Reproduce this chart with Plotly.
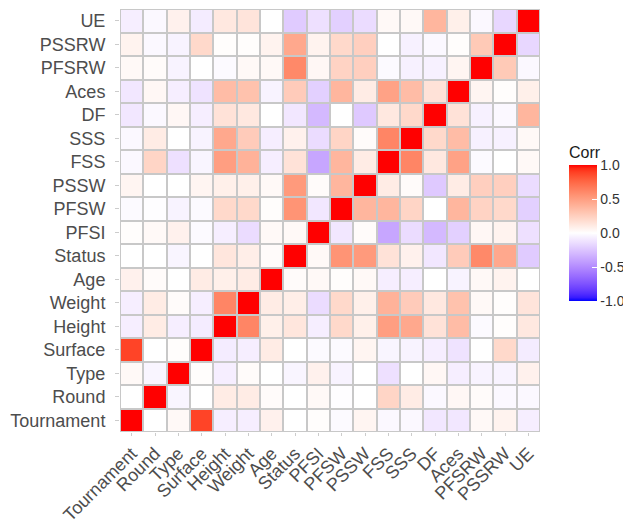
import plotly.graph_objects as go

variables = ["Tournament", "Round", "Type", "Surface", "Height", "Weight", "Age",
             "Status", "PFSI", "PFSW", "PSSW", "FSS", "SSS", "DF", "Aces",
             "PFSRW", "PSSRW", "UE"]

# lower triangle of the correlation matrix (row i, columns 0..i-1)
lower_triangle = [
    [],
    [0.00],
    [0.03, -0.04],
    [0.88, 0.00, 0.01],
    [-0.07, 0.10, -0.07, -0.08],
    [-0.07, 0.10, 0.02, -0.07, 0.62],
    [0.07, 0.02, 0.00, 0.10, 0.08, 0.10],
    [0.00, 0.00, -0.04, 0.00, 0.13, 0.09, 0.02],
    [0.01, 0.03, 0.07, -0.02, -0.07, -0.15, 0.03, 0.03],
    [-0.02, -0.01, -0.05, -0.02, 0.20, 0.20, 0.01, 0.55, -0.10],
    [0.05, 0.00, 0.00, 0.05, 0.08, 0.08, 0.03, 0.52, 0.02, 0.38],
    [-0.03, 0.22, -0.13, -0.04, 0.50, 0.40, -0.07, 0.15, -0.38, 0.38, 0.10],
    [-0.03, 0.10, 0.00, -0.05, 0.45, 0.27, -0.07, 0.07, -0.15, 0.22, 0.02, 0.62],
    [-0.10, -0.03, 0.04, -0.07, 0.15, 0.12, 0.00, -0.10, -0.30, 0.00, -0.23, 0.12, 0.20],
    [-0.10, 0.04, -0.07, -0.12, 0.35, 0.32, -0.05, 0.27, -0.20, 0.38, 0.10, 0.48, 0.35, 0.15],
    [0.03, 0.02, -0.05, 0.00, -0.02, 0.03, 0.03, 0.60, 0.04, 0.23, 0.25, -0.02, -0.06, -0.06, 0.05],
    [0.06, -0.03, -0.05, 0.20, 0.01, 0.01, 0.06, 0.45, 0.06, 0.20, 0.25, 0.00, -0.06, -0.03, 0.01, 0.28],
    [-0.07, -0.03, 0.07, -0.08, 0.12, 0.14, 0.00, -0.22, -0.13, -0.20, -0.15, 0.03, 0.03, 0.38, 0.08, -0.03, -0.17],
]

legend_ticks = [-1.0, -0.5, 0.0, 0.5, 1.0]
legend_tick_text = ["-1.0", "-0.5", "0.0", "0.5", "1.0"]

n = len(variables)
z = [[1.0 if i == j else None for j in range(n)] for i in range(n)]
for i, row in enumerate(lower_triangle):
    for j, v in enumerate(row):
        z[i][j] = v
        z[j][i] = v


# ---- Lab-space gradient (like ggplot2 scale_fill_gradient2) ----
def _lin(c):
    c = c / 255.0
    return c / 12.92 if c <= 0.04045 else ((c + 0.055) / 1.055) ** 2.4


def _delin(c):
    c = 12.92 * c if c <= 0.0031308 else 1.055 * c ** (1 / 2.4) - 0.055
    return max(0, min(255, round(c * 255)))


def rgb2lab(rgb):
    r, g, b = (_lin(c) for c in rgb)
    X = (0.4124 * r + 0.3576 * g + 0.1805 * b) / 0.95047
    Y = 0.2126 * r + 0.7152 * g + 0.0722 * b
    Z = (0.0193 * r + 0.1192 * g + 0.9505 * b) / 1.08883
    f = lambda t: t ** (1 / 3) if t > 0.008856 else 7.787 * t + 16 / 116
    fx, fy, fz = f(X), f(Y), f(Z)
    return (116 * fy - 16, 500 * (fx - fy), 200 * (fy - fz))


def lab2rgb(lab):
    L, a, b = lab
    fy = (L + 16) / 116
    fx = fy + a / 500
    fz = fy - b / 200
    finv = lambda t: t ** 3 if t ** 3 > 0.008856 else (t - 16 / 116) / 7.787
    X, Y, Z = finv(fx) * 0.95047, finv(fy), finv(fz) * 1.08883
    r = 3.2406 * X - 1.5372 * Y - 0.4986 * Z
    g = -0.9689 * X + 1.8758 * Y + 0.0415 * Z
    bb = 0.0557 * X - 0.2040 * Y + 1.0570 * Z
    r, g, bb = (max(0.0, min(1.0, c)) for c in (r, g, bb))
    return "rgb(%d,%d,%d)" % (_delin(r), _delin(g), _delin(bb))


low, mid, high = rgb2lab((0, 0, 255)), rgb2lab((255, 255, 255)), rgb2lab((255, 0, 0))
steps = 40
colorscale = []
for k in range(steps + 1):
    t = k / steps
    if t <= 0.5:
        u = t / 0.5
        lab = tuple(low[m] + (mid[m] - low[m]) * u for m in range(3))
    else:
        u = (t - 0.5) / 0.5
        lab = tuple(mid[m] + (high[m] - mid[m]) * u for m in range(3))
    colorscale.append([t, lab2rgb(lab)])

# the page body adds an 8px offset, so the figure is 8px smaller than the window
W, H = 623, 516
ml, mr, mt, mb = 112, 91, 1, 92
plot_h = H - mt - mb
plot_w = W - ml - mr

fig = go.Figure(go.Heatmap(
    z=z, x=variables, y=variables,
    zmin=-1, zmax=1, colorscale=colorscale,
    xgap=2, ygap=2,
    colorbar=dict(
        title=dict(text="Corr", side="top", font=dict(size=16, color="#1a1a1a")),
        tickvals=legend_ticks, ticktext=legend_tick_text,
        tickfont=dict(size=14, color="#333333"),
        thickness=28, len=158, lenmode="pixels",
        x=(561 - ml) / plot_w, xanchor="left", xpad=0, ypad=0,
        y=(plot_h + mt - 214) / plot_h, yanchor="middle",
        outlinewidth=0, ticks="inside", tickcolor="white", ticklen=5,
    ),
))

axis_font = dict(family="Liberation Sans, Arial, sans-serif", size=18, color="#4d4d4d")
fig.update_xaxes(type="category", tickangle=-45, tickfont=axis_font,
                 tickmode="array", tickvals=variables, ticktext=variables,
                 ticks="outside", ticklen=3, tickcolor="#cccccc",
                 ticklabelstandoff=0, automargin=False,
                 showgrid=False, zeroline=False, range=[-0.5, n - 0.5])
fig.update_yaxes(type="category", tickfont=axis_font,
                 tickmode="array", tickvals=variables, ticktext=variables,
                 ticks="outside", ticklen=4, tickcolor="#cccccc",
                 ticklabelstandoff=6, automargin=False,
                 showgrid=False, zeroline=False, range=[-0.5, n - 0.5])

fig.update_layout(
    width=W, height=H, autosize=False,
    margin=dict(l=ml, r=mr, t=mt, b=mb, pad=0, autoexpand=False),
    paper_bgcolor="white", plot_bgcolor="#c8c8c8",
    font=dict(family="Liberation Sans, Arial, sans-serif"),
)

fig.write_html("out.html")
